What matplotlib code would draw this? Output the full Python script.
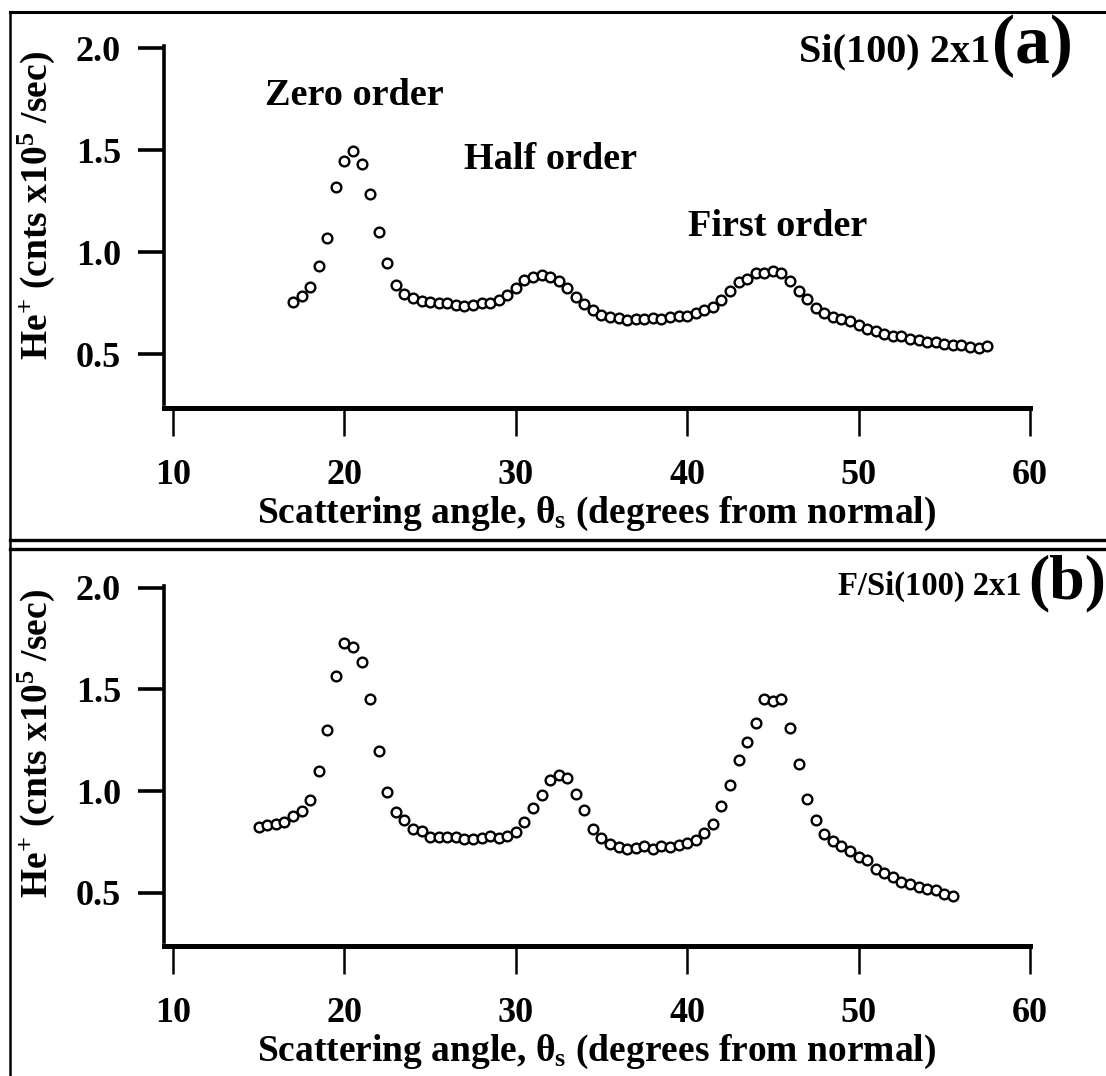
import numpy as np
import matplotlib
matplotlib.use("Agg")
import matplotlib.pyplot as plt
from matplotlib.lines import Line2D

plt.rcParams['font.family'] = ['Liberation Serif', 'DejaVu Serif']
plt.rcParams['font.weight'] = 'bold'
plt.rcParams['mathtext.fontset'] = 'custom'
plt.rcParams['mathtext.rm'] = 'Liberation Serif:bold'
plt.rcParams['mathtext.it'] = 'Liberation Serif:bold'
plt.rcParams['mathtext.bf'] = 'Liberation Serif:bold'

# (a) clean Si(100) 2x1, 17.0 - 57.5 deg in 0.5 deg steps
angle_a = np.arange(17.0, 57.51, 0.5)
counts_a = [
    0.757, 0.784, 0.830, 0.932, 1.071, 1.320, 1.449, 1.497, 1.434, 1.286,
    1.098, 0.946, 0.842, 0.797, 0.776, 0.762, 0.757, 0.752, 0.751, 0.743,
    0.739, 0.743, 0.751, 0.752, 0.766, 0.789, 0.827, 0.866, 0.880, 0.890,
    0.878, 0.858, 0.823, 0.782, 0.748, 0.719, 0.691, 0.682, 0.677, 0.670,
    0.673, 0.675, 0.680, 0.673, 0.682, 0.690, 0.686, 0.701, 0.718, 0.731,
    0.767, 0.809, 0.855, 0.871, 0.899, 0.901, 0.909, 0.901, 0.858, 0.810,
    0.772, 0.728, 0.701, 0.685, 0.672, 0.662, 0.645, 0.625, 0.614, 0.601,
    0.591, 0.588, 0.574, 0.569, 0.559, 0.563, 0.550, 0.548, 0.545, 0.538,
    0.533, 0.540,
]

# (b) fluorinated surface, 15.0 - 55.5 deg in 0.5 deg steps
angle_b = np.arange(15.0, 55.51, 0.5)
counts_b = [
    0.821, 0.833, 0.836, 0.848, 0.876, 0.902, 0.956, 1.098, 1.301, 1.564,
    1.729, 1.706, 1.633, 1.454, 1.198, 0.994, 0.897, 0.859, 0.813, 0.802,
    0.775, 0.775, 0.775, 0.772, 0.763, 0.764, 0.767, 0.777, 0.770, 0.777,
    0.800, 0.846, 0.916, 0.982, 1.054, 1.079, 1.062, 0.984, 0.905, 0.815,
    0.770, 0.738, 0.725, 0.716, 0.718, 0.731, 0.716, 0.730, 0.725, 0.736,
    0.744, 0.761, 0.792, 0.836, 0.926, 1.029, 1.154, 1.239, 1.333, 1.452,
    1.441, 1.451, 1.310, 1.131, 0.961, 0.856, 0.790, 0.756, 0.730, 0.704,
    0.674, 0.662, 0.618, 0.598, 0.577, 0.553, 0.543, 0.530, 0.517, 0.512,
    0.494, 0.485,
]

xticks = [10, 20, 30, 40, 50, 60]
yticks = [0.5, 1.0, 1.5, 2.0]
ytick_labels = ['0.5', '1.0', '1.5', '2.0']
xlabel = r'Scattering angle, θ$_{s}$ (degrees from normal)'
ylabel = r'He$^{+}$ (cnts x10$^{5}$ /sec)'

W, H = 1106, 1076
fig = plt.figure(figsize=(W / 100, H / 100), dpi=100)


def px(x, y):
    return x / W, 1 - y / H


def make_panel(top, bottom, angle, counts):
    l, b = px(164, bottom)
    ax = fig.add_axes([l, b, (1030 - 164) / W, (bottom - top) / H])
    ax.plot(angle, counts, 'o', mfc='white', mec='black', ms=7, mew=1.7)
    ax.set_xlim(9.475, 60)
    ax.set_ylim(0.26, 2.01)
    for s in ['top', 'right']:
        ax.spines[s].set_visible(False)
    ax.spines['left'].set_linewidth(2.6)
    ax.spines['bottom'].set_linewidth(3.6)
    ax.spines['bottom'].set_position(('outward', 3))
    ax.set_xticks(xticks)
    ax.set_yticks(yticks)
    ax.set_yticklabels(ytick_labels)
    ax.tick_params(axis='x', direction='out', length=20, width=1.8,
                   labelsize=26, pad=17)
    ax.tick_params(axis='y', direction='out', length=19, width=2.6,
                   labelsize=26, pad=12)
    ax.set_xlabel(xlabel, fontsize=27, fontweight='bold', labelpad=2)
    ax.set_ylabel(ylabel, fontsize=27, fontweight='bold')
    ax.yaxis.set_label_coords(-0.123, 0.555)
    return ax


ax1 = make_panel(46, 403.5, angle_a, counts_a)
ax2 = make_panel(585.6, 941.5, angle_b, counts_b)

# peak labels on the clean surface
ax1.text(20.6, 1.77, 'Zero order', fontsize=27.5, ha='center', va='center')
ax1.text(32.0, 1.455, 'Half order', fontsize=27.5, ha='center', va='center')
ax1.text(45.3, 1.124, 'First order', fontsize=27.5, ha='center', va='center')

# panel titles
fig.text(*px(990, 52), 'Si(100) 2x1', fontsize=29, ha='right', va='center')
fig.text(*px(992, 46), '(a)', fontsize=50, ha='left', va='center')
fig.text(*px(1022, 586), 'F/Si(100) 2x1', fontsize=23.5, ha='right', va='center')
fig.text(*px(1028, 583), '(b)', fontsize=46, ha='left', va='center')

# boxes around each panel
frame = dict(color='black', transform=fig.transFigure)
fig.add_artist(Line2D([10 / W, 10 / W], [0, 1 - 12 / H], lw=1.8, **frame))
fig.add_artist(Line2D([10 / W, 1], [1 - 12 / H, 1 - 12 / H], lw=2.2, **frame))
fig.add_artist(Line2D([10 / W, 1], [1 - 540 / H, 1 - 540 / H], lw=2.4, **frame))
fig.add_artist(Line2D([10 / W, 1], [1 - 549 / H, 1 - 549 / H], lw=2.4, **frame))

fig.savefig('out.png', dpi=100)
